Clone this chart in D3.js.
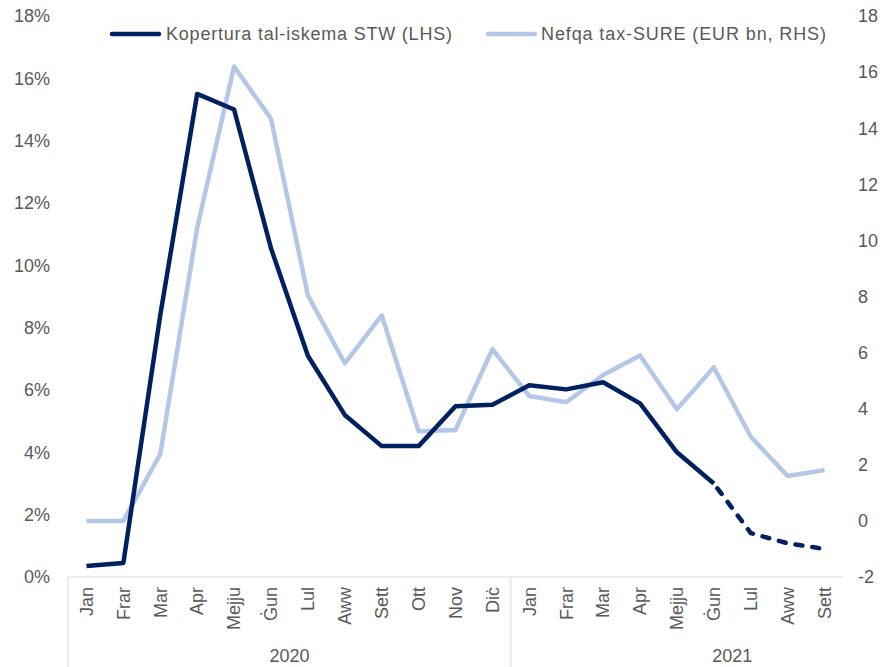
<!DOCTYPE html>
<html>
<head>
<meta charset="utf-8">
<script src="https://cdn.jsdelivr.net/npm/d3@7"></script>
<style>
  body { margin: 0; background: #fff; }
  svg text { font-family: "Liberation Sans", Arial, sans-serif; fill: #595959; }
</style>
</head>
<body>
<svg id="chart" width="885" height="667"></svg>
<script>
const months = ["Jan","Frar","Mar","Apr","Mejju","Ġun","Lul","Aww","Sett","Ott","Nov","Diċ",
                "Jan","Frar","Mar","Apr","Mejju","Ġun","Lul","Aww","Sett"];
// 2021 group nominally spans 12 months (label centred over the full year)
const years = [{label: "2020", from: 0, span: 12}, {label: "2021", from: 12, span: 12}];
const stwCoverage = [0.35,0.45,8.4,15.5,15.0,10.55,7.1,5.2,4.2,4.2,5.48,5.53,
                     6.15,6.02,6.25,5.57,4.0,3.0,1.41,1.08,0.9];
const stwDashedFrom = 17; // estimated part starts after Ġun 2021
const sureSpending = [0,0,2.38,10.45,16.2,14.34,8.04,5.62,7.33,3.2,3.24,6.12,
                      4.45,4.23,5.2,5.9,3.98,5.48,3.0,1.6,1.81];
const leftTicks = [0,2,4,6,8,10,12,14,16,18];
const rightTicks = [-2,0,2,4,6,8,10,12,14,16,18];
const legendLabels = ["Kopertura tal-iskema STW (LHS)", "Nefqa tax-SURE (EUR bn, RHS)"];
const colors = ["#002060", "#B4C7E7"];

const svg = d3.select("#chart");
const x0 = 68, x1 = 843, yTop = 16, yBot = 577;
const idx = d3.range(months.length);
const x = d3.scaleBand().domain(idx).range([x0, x1]);
const bw = x.bandwidth();
const xc = i => x(i) + bw / 2;
const yL = d3.scaleLinear().domain([0, 18]).range([yBot, yTop]);
const yR = d3.scaleLinear().domain([-2, 18]).range([yBot, yTop]);

// left axis labels
svg.append("g").selectAll("text").data(leftTicks).join("text")
  .attr("x", 50).attr("y", d => yL(d)).attr("dy", "0.35em")
  .attr("text-anchor", "end").style("font-size", "18px")
  .text(d => d + "%");
// right axis labels
svg.append("g").selectAll("text").data(rightTicks).join("text")
  .attr("x", 858).attr("y", d => yR(d)).attr("dy", "0.35em")
  .attr("text-anchor", "start").style("font-size", "18px")
  .text(d => d);

// x axis line
svg.append("line").attr("x1", x0).attr("x2", x1).attr("y1", yBot).attr("y2", yBot)
  .attr("stroke", "#d9d9d9").attr("stroke-width", 1);
// group separators
[0, 12].forEach(i => {
  svg.append("line").attr("x1", x(i)).attr("x2", x(i)).attr("y1", yBot).attr("y2", 667)
    .attr("stroke", "#d9d9d9").attr("stroke-width", 1);
});
// month labels
svg.append("g").selectAll("text").data(idx).join("text")
  .attr("transform", i => `translate(${xc(i)},587) rotate(-90)`)
  .attr("dy", "0.35em").attr("text-anchor", "end").style("font-size", "18px")
  .text(i => months[i]);
// year labels
svg.append("g").selectAll("text").data(years).join("text")
  .attr("x", d => x(d.from) + d.span * bw / 2)
  .attr("y", 662).attr("text-anchor", "middle").style("font-size", "18px")
  .text(d => d.label);

// lines
const lineR = d3.line().x(i => xc(i)).y(i => yR(sureSpending[i]));
const lineL = d3.line().x(i => xc(i)).y(i => yL(stwCoverage[i]));
svg.append("path").attr("d", lineR(idx)).attr("fill", "none")
  .attr("stroke", colors[1]).attr("stroke-width", 4.5).attr("stroke-linejoin", "round");
svg.append("path").attr("d", lineL(idx.filter(i => i <= stwDashedFrom))).attr("fill", "none")
  .attr("stroke", colors[0]).attr("stroke-width", 4.5).attr("stroke-linejoin", "round");
svg.append("path").attr("d", lineL(idx.filter(i => i >= stwDashedFrom))).attr("fill", "none")
  .attr("stroke", colors[0]).attr("stroke-width", 4.5).attr("stroke-linejoin", "round")
  .attr("stroke-linecap", "round").attr("stroke-dasharray", "7,10").attr("stroke-dashoffset", -6);

// legend
const legendPos = [{lx: 112, tx: 166, w: 286}, {lx: 488, tx: 541, w: 285}];
legendLabels.forEach((lab, k) => {
  svg.append("line").attr("x1", legendPos[k].lx).attr("x2", legendPos[k].lx + 47)
    .attr("y1", 34).attr("y2", 34).attr("stroke", colors[k]).attr("stroke-width", 4.5)
    .attr("stroke-linecap", "round");
  svg.append("text").attr("x", legendPos[k].tx).attr("y", 34).attr("dy", "0.35em")
    .attr("textLength", legendPos[k].w).attr("lengthAdjust", "spacing")
    .style("font-size", "18px").text(lab);
});
</script>
</body>
</html>
